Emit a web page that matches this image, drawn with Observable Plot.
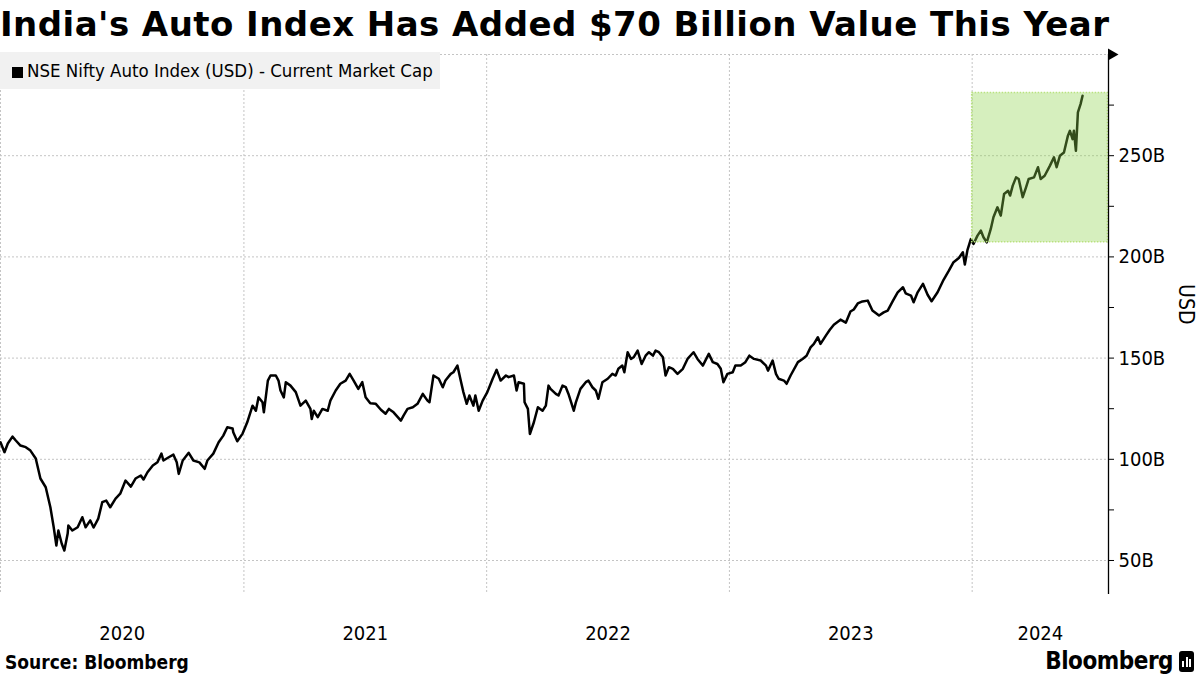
<!DOCTYPE html>
<html>
<head>
<meta charset="utf-8">
<script src="https://cdn.jsdelivr.net/npm/d3@7"></script>
<script src="https://cdn.jsdelivr.net/npm/@observablehq/plot@0.6"></script>
<style>
  html, body { margin: 0; padding: 0; background: #fff; }
  body { width: 1200px; height: 675px; position: relative; overflow: hidden;
         font-family: "DejaVu Sans Condensed", "DejaVu Sans", sans-serif; font-stretch: condensed; }
  #title { position: absolute; left: 0; top: 2px; font-family: "DejaVu Sans", sans-serif; font-stretch: normal;
           font-weight: bold; font-size: 34px; letter-spacing: 0.45px; line-height: 44px; color: #000; white-space: nowrap; }
  #chart { position: absolute; left: 0; top: 44px; }
  #legend { position: absolute; left: 0; top: 52px; width: 440px; height: 37px; background: #f1f1f1;
            font-size: 18.5px; line-height: 37px; color: #000; white-space: nowrap; }
  #legend .sw { display: inline-block; width: 11px; height: 11px; background: #000; margin-left: 12px; margin-right: 4px; vertical-align: -1px; }
  #source { position: absolute; left: 5px; top: 650px; font-weight: bold; font-size: 19px; line-height: 24px; }
  #logo { position: absolute; right: 6px; top: 646px; font-weight: bold; font-size: 24px; line-height: 30px; letter-spacing: -0.5px; }
  #logo .ic { display: inline-block; width: 15px; height: 21px; background: #000; border-radius: 3px; vertical-align: -3px; margin-left: 6px; position: relative; }
  #logo .ic i { position: absolute; bottom: 5px; width: 2px; background: #fff; }
</style>
</head>
<body>
<div id="title">India's Auto Index Has Added $70 Billion Value This Year</div>
<div id="chart"></div>
<div id="legend"><span class="sw"></span>NSE Nifty Auto Index (USD) - Current Market Cap</div>
<div id="source">Source: Bloomberg</div>
<div id="logo">Bloomberg<span class="ic"><i style="left:3px;height:6px"></i><i style="left:6.5px;height:10px"></i><i style="left:10px;height:8px"></i></span></div>
<script>
// ---- Data (USD billions) ----
const dates = [
"2020-01-01","2020-01-07","2020-01-12","2020-01-19","2020-01-24","2020-01-31","2020-02-08","2020-02-15","2020-02-23","2020-03-01",
"2020-03-09","2020-03-16","2020-03-21","2020-03-25","2020-03-28","2020-04-02","2020-04-06","2020-04-11","2020-04-12","2020-04-18",
"2020-04-26","2020-05-03","2020-05-08","2020-05-15","2020-05-20","2020-05-27","2020-06-02","2020-06-08","2020-06-14","2020-06-22",
"2020-06-29","2020-07-07","2020-07-15","2020-07-22","2020-07-30","2020-08-03","2020-08-09","2020-08-17","2020-08-24","2020-08-30",
"2020-09-02","2020-09-10","2020-09-17","2020-09-22","2020-09-25","2020-10-01","2020-10-10","2020-10-17","2020-10-26","2020-11-03",
"2020-11-07","2020-11-16","2020-11-24","2020-12-01","2020-12-07","2020-12-15","2020-12-16","2020-12-22","2020-12-30",
"2021-01-06","2021-01-14","2021-01-19","2021-01-23","2021-01-29","2021-01-31","2021-02-06","2021-02-10","2021-02-18","2021-02-22",
"2021-02-25","2021-03-02","2021-03-05","2021-03-12","2021-03-20","2021-03-27","2021-04-04","2021-04-11","2021-04-13","2021-04-16",
"2021-04-22","2021-04-29","2021-05-07","2021-05-11","2021-05-19","2021-05-26","2021-06-03","2021-06-09","2021-06-15","2021-06-22",
"2021-06-28","2021-07-03","2021-07-10","2021-07-18","2021-07-26","2021-08-02","2021-08-07","2021-08-14","2021-08-25","2021-08-29",
"2021-09-04","2021-09-12","2021-09-19","2021-09-27","2021-10-04","2021-10-07","2021-10-13","2021-10-21","2021-10-27","2021-10-31",
"2021-11-08","2021-11-12","2021-11-18","2021-11-23","2021-11-27","2021-12-02","2021-12-06","2021-12-12","2021-12-15","2021-12-20",
"2021-12-26",
"2022-01-02","2022-01-10","2022-01-16","2022-01-22","2022-01-30","2022-02-03","2022-02-11","2022-02-15","2022-02-18","2022-02-26",
"2022-02-27","2022-03-04","2022-03-07","2022-03-13","2022-03-19","2022-03-26","2022-03-31","2022-04-04","2022-04-07","2022-04-15",
"2022-04-19","2022-04-25","2022-04-30","2022-05-04","2022-05-12","2022-05-15","2022-05-22","2022-05-30","2022-06-03","2022-06-09",
"2022-06-14","2022-06-18","2022-06-24","2022-07-02","2022-07-09","2022-07-14","2022-07-18","2022-07-24","2022-07-27","2022-08-01",
"2022-08-06","2022-08-10","2022-08-16","2022-08-22","2022-08-28","2022-09-02","2022-09-08","2022-09-12","2022-09-17","2022-09-23",
"2022-09-27","2022-10-02","2022-10-08","2022-10-15","2022-10-23","2022-10-30","2022-11-08","2022-11-14","2022-11-22","2022-12-01",
"2022-12-07","2022-12-14","2022-12-19","2022-12-23","2022-12-29",
"2023-01-06","2023-01-10","2023-01-18","2023-01-25","2023-01-31","2023-02-07","2023-02-17","2023-02-25","2023-02-28","2023-03-07",
"2023-03-12","2023-03-16","2023-03-24","2023-03-28","2023-04-03","2023-04-14","2023-04-21","2023-04-27","2023-05-03","2023-05-08",
"2023-05-14","2023-05-18","2023-05-26","2023-06-01","2023-06-07","2023-06-17","2023-06-25","2023-07-02","2023-07-07","2023-07-13",
"2023-07-20","2023-07-28","2023-08-04","2023-08-14","2023-08-21","2023-08-27","2023-09-04","2023-09-11","2023-09-19","2023-09-23",
"2023-10-01","2023-10-05","2023-10-11","2023-10-19","2023-10-26","2023-11-01","2023-11-10","2023-11-19","2023-11-27","2023-12-04",
"2023-12-12","2023-12-18","2023-12-21","2023-12-25","2023-12-30",
"2024-01-03","2024-01-09","2024-01-14","2024-01-18","2024-01-23","2024-01-29","2024-02-02","2024-02-08","2024-02-13","2024-02-18",
"2024-02-24","2024-02-27","2024-03-02","2024-03-07","2024-03-11","2024-03-17","2024-03-22","2024-03-26","2024-04-03","2024-04-09",
"2024-04-13","2024-04-19","2024-04-27","2024-05-03","2024-05-07","2024-05-12","2024-05-18","2024-05-24","2024-05-27","2024-05-31",
"2024-06-02","2024-06-05","2024-06-08","2024-06-12","2024-06-15"
];
const values = [
108.4,103.5,107.8,111.2,109.3,106.8,106.0,104.3,100.4,90.5,
86.2,76.3,66.4,57.4,64.8,58.4,54.9,63.3,67.3,64.8,
66.4,71.4,66.4,69.8,66.3,70.7,78.8,79.6,76.3,80.6,
83.0,89.5,86.5,90.5,92.0,90.0,93.6,96.9,98.5,102.8,
99.4,101.0,102.3,98.5,92.8,99.4,103.2,99.4,98.5,95.3,
99.4,102.8,108.4,111.7,115.8,115.2,113.4,108.9,112.7,
118.3,126.5,124.0,130.6,128.2,123.2,138.9,141.4,141.4,138.9,
134.0,130.6,138.1,136.4,133.2,126.5,129.0,124.9,119.9,124.0,
120.8,124.9,124.0,129.0,134.0,137.3,138.9,142.2,138.9,134.8,
138.1,130.7,127.7,127.5,124.5,122.5,124.9,123.2,119.1,121.6,
124.9,125.7,127.4,132.3,129.0,128.2,141.4,139.8,135.6,138.9,
142.2,143.0,146.3,138.9,133.2,127.4,131.5,126.5,131.5,124.0,
129.0,
133.2,139.8,144.2,138.9,141.4,140.6,141.4,134.0,138.1,137.3,
128.2,124.9,112.5,118.3,125.7,124.0,126.5,136.4,134.8,132.3,
131.5,136.4,135.6,132.3,124.0,128.0,134.8,138.1,138.9,135.6,
134.0,129.9,138.1,139.8,142.2,141.4,144.7,146.3,143.0,152.9,
149.6,150.4,153.7,147.1,151.2,152.9,151.2,153.7,152.9,150.4,
141.4,145.5,144.7,142.2,144.7,149.6,152.9,149.6,146.3,152.1,
148.0,147.1,144.7,138.1,142.2,
143.0,146.3,146.3,148.0,151.2,149.6,148.8,146.3,143.8,148.8,
142.2,139.8,138.9,137.3,141.4,148.0,149.6,151.2,155.3,157.0,
160.3,157.0,161.1,164.0,166.5,169.0,167.5,173.0,174.0,177.0,
178.0,178.4,173.5,171.0,172.6,173.5,178.4,182.5,185.0,182.0,
180.9,177.6,182.5,186.7,181.3,178.1,182.5,188.7,193.2,197.4,
199.5,202.3,196.2,203.5,208.8,
206.4,210.5,213.0,209.7,207.2,213.8,219.6,224.5,220.4,231.1,
232.7,230.3,235.2,239.3,238.5,229.5,234.4,238.5,239.3,244.3,
238.5,240.1,245.1,249.2,244.3,250.0,251.6,259.9,262.3,258.2,
262.3,252.4,271.4,275.5,279.6
];
const yearLabels = ["2020", "2021", "2022", "2023", "2024"];
const yTickValues = [50, 100, 150, 200, 250];
const yMinorTicks = [75, 125, 175, 225, 275];
const yGridValues = [50, 100, 150, 200, 250, 300];
const xDomain = ["2020-01-01", "2024-07-24"];
const yDomain = [33.2, 300];
const highlight = { start: "2024-01-01", end: "2024-07-23", low: 207.2, high: 281 };

// ---- Build ----
const data = dates.map((d, i) => ({ date: new Date(d), value: values[i] }));
const x0 = new Date(xDomain[0]), x1 = new Date(xDomain[1]);
const yearStarts = yearLabels.map(y => new Date(`${y}-01-01`));
const yearMids = yearLabels.map(y => {
  const s = new Date(`${y}-01-01`), e = new Date(`${+y + 1}-01-01`);
  const a = Math.max(+s, +x0), b = Math.min(+e, +x1);
  return { label: y, date: new Date((a + b) / 2) };
});
const hl = [{ x1: new Date(highlight.start), x2: new Date(highlight.end), y1: highlight.low, y2: highlight.high }];
const grid = { stroke: "#c4c4c4", strokeWidth: 1, strokeDasharray: "2,2" };

const chart = Plot.plot({
  width: 1200,
  height: 606,
  marginTop: 10,
  marginBottom: 56,
  marginLeft: 0,
  marginRight: 92,
  style: { fontFamily: '"DejaVu Sans Condensed", "DejaVu Sans", sans-serif', fontSize: "20px", color: "#000", background: "transparent", overflow: "visible" },
  x: { type: "utc", domain: [x0, x1], axis: null },
  y: { domain: yDomain, axis: null },
  marks: [
    Plot.ruleY(yGridValues, grid),
    Plot.ruleX(yearStarts, grid),
    Plot.lineY(data, { x: "date", y: "value", stroke: "#000", strokeWidth: 2.5, strokeLinejoin: "round" }),
    Plot.rect(hl, { x1: "x1", x2: "x2", y1: "y1", y2: "y2", fill: "#8ed34a", fillOpacity: 0.36 }),
    Plot.rect(hl, { x1: "x1", x2: "x2", y1: "y1", y2: "y2", fill: "none", stroke: "#b9e27f", strokeWidth: 1.5, strokeDasharray: "1.5,1.5" }),
    Plot.ruleX([x1], { stroke: "#000", strokeWidth: 1.3 }),
    Plot.axisY({ anchor: "right", ticks: yTickValues, tickFormat: d => `${d}B`, tickSize: 5, tickPadding: 5, label: null, fontSize: 20 }),
    Plot.axisY({ anchor: "right", ticks: yMinorTicks, tickFormat: null, text: null, tickSize: 5, label: null }),
    Plot.dot([{ x: x1, y: yDomain[1] }], { x: "x", y: "y", symbol: "triangle", rotate: 90, r: 4.5, fill: "#000", dx: 3 }),
    Plot.text(["USD"], { frameAnchor: "right", dx: 77, rotate: 90, fontSize: 21 }),
    Plot.text(yearMids, { x: "date", text: "label", frameAnchor: "bottom", dy: 45, fontSize: 20 })
  ]
});
document.getElementById("chart").appendChild(chart);
</script>
</body>
</html>
